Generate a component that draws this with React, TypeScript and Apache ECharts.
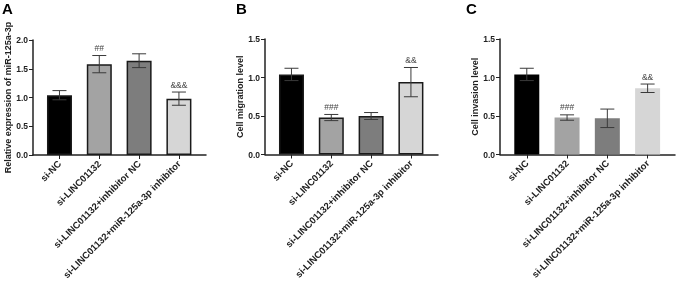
import React, { useEffect, useRef } from "react";
import * as echarts from "echarts";

const categories = [
  "si-NC",
  "si-LINC01132",
  "si-LINC01132+inhibitor NC",
  "si-LINC01132+miR-125a-3p inhibitor",
];
const barColors = ["#000000", "#a3a3a3", "#7d7d7d", "#d6d6d6"];

const meanA = [1.04, 1.58, 1.64, 0.98];
const sdA = [0.08, 0.15, 0.12, 0.115];
const annA = ["", "##", "", "&&&"];

const meanB = [1.04, 0.48, 0.5, 0.94];
const sdB = [0.08, 0.04, 0.045, 0.19];
const annB = ["", "###", "", "&&"];

const meanC = [1.04, 0.48, 0.47, 0.86];
const sdC = [0.08, 0.035, 0.12, 0.055];
const annC = ["", "###", "", "&&"];

const yNames = ["Relative expression of miR-125a-3p", "Cell migration level", "Cell invasion level"];
const yMax = [2, 1.5, 1.5];
const yTickStep = 0.5;
const panelLetters = ["A", "B", "C"];

const FONT = "'Liberation Sans', Arial, sans-serif";
const AXIS = "#222222";

export default function App() {
  const ref = useRef<HTMLDivElement>(null);
  useEffect(() => {
    if (!ref.current) return;
    const chart = echarts.init(ref.current, null, { renderer: "svg" });
    const panels = [
      { mean: meanA, sd: sdA, ann: annA, border: true, grid: { left: 33, top: 40, width: 173, height: 115 } },
      { mean: meanB, sd: sdB, ann: annB, border: true, grid: { left: 265, top: 39, width: 173, height: 115.5 } },
      { mean: meanC, sd: sdC, ann: annC, border: false, grid: { left: 500, top: 39, width: 175, height: 115.5 } },
    ];
    const grids: any[] = [];
    const xAxes: any[] = [];
    const yAxes: any[] = [];
    const series: any[] = [];
    const letterX = [2, 236, 466];
    panels.forEach((p, i) => {
      grids.push({ ...p.grid, containLabel: false });
      xAxes.push({
        type: "value",
        gridIndex: i,
        min: -0.665,
        max: 3.68,
        splitLine: { show: false },
        axisLine: { show: true, onZero: false, lineStyle: { color: AXIS, width: 1.5 } },
        axisTick: { show: true, customValues: [0, 1, 2, 3], length: 4, lineStyle: { color: AXIS, width: 1 } },
        axisLabel: {
          customValues: [0, 1, 2, 3],
          formatter: (v: number) => categories[Math.round(v)],
          rotate: 45,
          margin: 7,
          fontSize: 9.5,
          fontWeight: "bold",
          fontFamily: FONT,
          color: "#222",
        },
      });
      yAxes.push({
        type: "value",
        gridIndex: i,
        min: 0,
        max: yMax[i],
        interval: yTickStep,
        name: yNames[i],
        nameLocation: "middle",
        nameRotate: 90,
        nameGap: 20,
        nameTextStyle: { fontSize: 9, fontWeight: "bold", fontFamily: FONT, color: "#222" },
        splitLine: { show: false },
        axisLine: { show: true, onZero: false, lineStyle: { color: AXIS, width: 1.5 } },
        axisTick: { show: true, length: 4, lineStyle: { color: AXIS, width: 1 } },
        axisLabel: {
          formatter: (v: number) => v.toFixed(1),
          fontSize: 8.5,
          fontWeight: "bold",
          fontFamily: FONT,
          color: "#222",
          margin: 5,
        },
      });
      series.push({
        type: "bar",
        xAxisIndex: i,
        yAxisIndex: i,
        barWidth: 25,
        data: p.mean.map((m, k) => ({
          value: [k, m],
          itemStyle: {
            color: barColors[k],
            borderColor: p.border ? "#1a1a1a" : barColors[k],
            borderWidth: p.border ? 1.5 : 0,
          },
        })),
      });
      const ann = p.ann;
      series.push({
        type: "custom",
        xAxisIndex: i,
        yAxisIndex: i,
        z: 5,
        encode: { x: 0, y: 1 },
        data: p.mean.map((m, k) => [k, m, p.sd[k]]),
        renderItem: (params: any, api: any) => {
          const x = api.value(0);
          const m = api.value(1);
          const s = api.value(2);
          const top = api.coord([x, m + s]);
          const bot = api.coord([x, m - s]);
          const cap = 7;
          const st = { stroke: "#3a3a3a", lineWidth: 1 };
          const children: any[] = [
            { type: "line", shape: { x1: top[0], y1: top[1], x2: bot[0], y2: bot[1] }, style: st },
            { type: "line", shape: { x1: top[0] - cap, y1: top[1], x2: top[0] + cap, y2: top[1] }, style: st },
            { type: "line", shape: { x1: bot[0] - cap, y1: bot[1], x2: bot[0] + cap, y2: bot[1] }, style: st },
          ];
          const t = ann[params.dataIndex];
          if (t) {
            children.push({
              type: "text",
              x: top[0],
              y: top[1] - 3,
              style: {
                text: t,
                fill: "#444",
                fontSize: 8.5,
                fontFamily: FONT,
                align: "center",
                verticalAlign: "bottom",
              },
            });
          }
          return { type: "group", children };
        },
      });
    });
    chart.setOption({
      animation: false,
      grid: grids,
      xAxis: xAxes,
      yAxis: yAxes,
      series,
      graphic: panelLetters.map((l, i) => ({
        type: "text",
        left: letterX[i],
        top: 1,
        style: { text: l, fontSize: 15, fontWeight: "bold", fontFamily: FONT, fill: "#000" },
      })),
    });
    return () => chart.dispose();
  }, []);
  return <div ref={ref} style={{ position: "fixed", left: 0, top: 0, width: 676, height: 285 }} />;
}
